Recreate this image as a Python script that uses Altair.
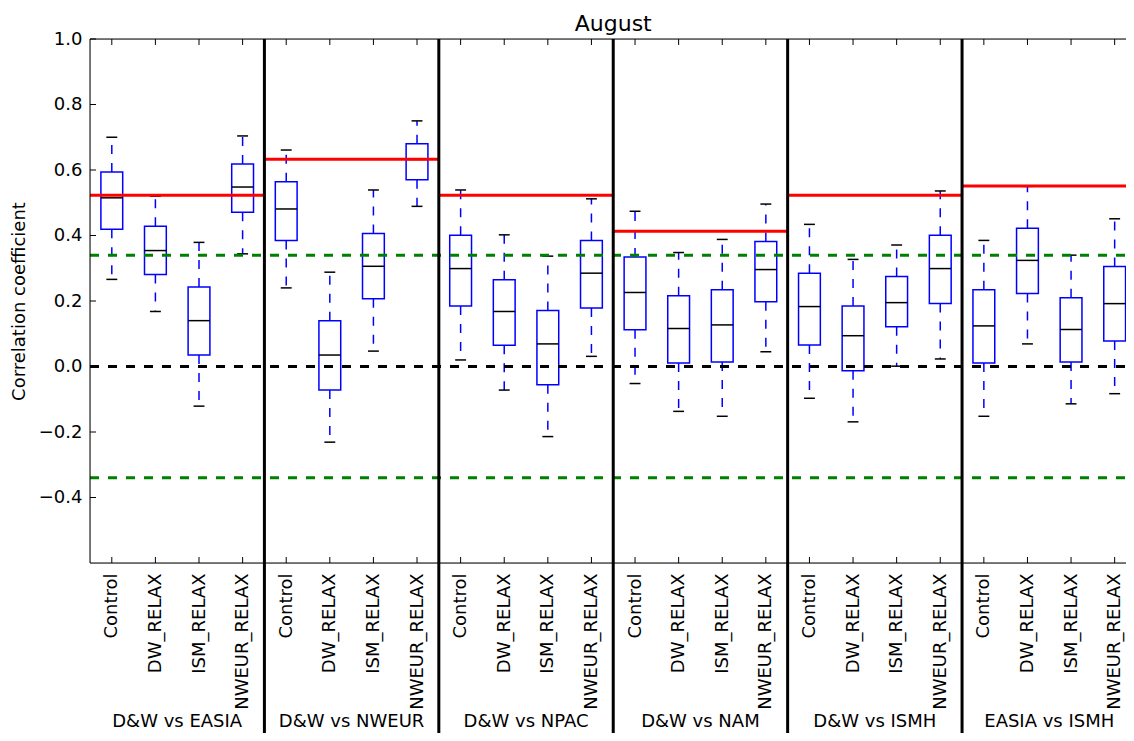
import json
import altair as alt
import pandas as pd

# ---- data ----
groups = ["D&W vs EASIA", "D&W vs NWEUR", "D&W vs NPAC", "D&W vs NAM", "D&W vs ISMH", "EASIA vs ISMH"]
experiments = ["Control", "DW_RELAX", "ISM_RELAX", "NWEUR_RELAX"]
chart_title = ["August"]

whisker_lo = [0.266, 0.168, -0.121, 0.344,
              0.240, -0.231, 0.047, 0.489,
              0.020, -0.072, -0.214, 0.031,
              -0.052, -0.137, -0.152, 0.045,
              -0.097, -0.169, 0.001, 0.023,
              -0.152, 0.069, -0.114, -0.083]
quart1 = [0.419, 0.281, 0.035, 0.471,
          0.385, -0.072, 0.207, 0.570,
          0.185, 0.065, -0.056, 0.179,
          0.112, 0.011, 0.014, 0.198,
          0.066, -0.013, 0.121, 0.192,
          0.011, 0.223, 0.014, 0.078]
medians = [0.515, 0.354, 0.140, 0.548,
           0.481, 0.035, 0.306, 0.632,
           0.299, 0.168, 0.069, 0.285,
           0.226, 0.116, 0.127, 0.296,
           0.183, 0.094, 0.195, 0.299,
           0.124, 0.324, 0.113, 0.192]
quart3 = [0.594, 0.428, 0.243, 0.618,
          0.564, 0.140, 0.406, 0.680,
          0.401, 0.265, 0.171, 0.385,
          0.334, 0.216, 0.234, 0.382,
          0.285, 0.185, 0.275, 0.401,
          0.234, 0.422, 0.210, 0.305]
whisker_hi = [0.700, 0.520, 0.379, 0.704,
              0.661, 0.288, 0.539, 0.750,
              0.539, 0.402, 0.337, 0.512,
              0.474, 0.348, 0.388, 0.496,
              0.434, 0.327, 0.371, 0.536,
              0.385, 0.550, 0.340, 0.451]
observed = [0.523, 0.633, 0.523, 0.413, 0.523, 0.551]   # red lines
significance = [0.34, -0.34]                              # green dashed
zero_line = [0.0]
ytick_values = [-0.4, -0.2, 0.0, 0.2, 0.4, 0.6, 0.8, 1.0]

# ---- layout ----
W, H = 1036, 524
X_END = 24.26          # visible right end of the x domain (plot continues past the window)
FONT = "DejaVu Sans"
BLUE, RED, GREEN = "#0000ff", "#ff0000", "#008000"
n_exp = len(experiments)
n_box = len(groups) * n_exp

rows = []
for g, grp in enumerate(groups):
    for e, exp in enumerate(experiments):
        i = g * n_exp + e
        p = i + 1
        rows.append(dict(group=grp, experiment=exp, pos=p,
                         left=p - 0.25, right=p + 0.25,
                         capl=p - 0.125, capr=p + 0.125,
                         lo=whisker_lo[i], q1=quart1[i], med=medians[i],
                         q3=quart3[i], hi=whisker_hi[i]))
df = pd.DataFrame(rows)

gdf = pd.DataFrame(dict(group=groups, val=observed,
                        x0=[g * n_exp + 0.5 for g in range(len(groups))],
                        x1=[g * n_exp + n_exp + 0.5 for g in range(len(groups))],
                        xc=[g * n_exp + (n_exp + 1) / 2 for g in range(len(groups))]))
sep_df = pd.DataFrame(dict(sx=[g * n_exp + 0.5 for g in range(1, len(groups))]))
sig_df = pd.DataFrame(dict(val=significance))
zero_df = pd.DataFrame(dict(val=zero_line))
ytick_df = pd.DataFrame(dict(v=ytick_values))
title_df = pd.DataFrame(dict(t=chart_title, xc=[(n_box + 1) / 2]))

xscale = alt.Scale(domain=[0.5, X_END], nice=False, zero=False)
yscale = alt.Scale(domain=[-0.6, 1.0], nice=False, zero=False)

xaxis = alt.Axis(values=list(range(1, n_box + 1)),
                 labelExpr=f"{json.dumps(experiments)}[(datum.value - 1) % {n_exp}]",
                 labelAngle=270, labelAlign="right", labelBaseline="middle",
                 labelPadding=10, ticks=False, tickSize=0, domain=False, grid=False,
                 labelOverlap=False, labelFlush=False, labelFont=FONT, labelFontSize=18,
                 labelColor="black", title=None)
yaxis = alt.Axis(values=ytick_values, format=".1f", ticks=False, tickSize=0,
                 domain=False, grid=False, labelPadding=8, labelFont=FONT,
                 labelFontSize=18, labelColor="black", labelOverlap=False,
                 title="Correlation coefficient", titleFont=FONT, titleFontSize=18,
                 titleFontWeight="normal", titleColor="black", titleAngle=270,
                 titleX=-71, titleY=H / 2, titleAlign="center", titleBaseline="middle")


def X(field):
    return alt.X(field, type="quantitative", scale=xscale, axis=xaxis)


def Y(field):
    return alt.Y(field, type="quantitative", scale=yscale, axis=yaxis)


base = alt.Chart(df)

boxes = base.mark_rect(fillOpacity=0, stroke=BLUE, strokeWidth=1.5).encode(
    x=X("left"), x2="right:Q", y=Y("q1"), y2="q3:Q")
whisk_up = base.mark_rule(color=BLUE, strokeWidth=1.5, strokeDash=[9, 9]).encode(
    x=X("pos"), y=Y("q3"), y2="hi:Q")
whisk_dn = base.mark_rule(color=BLUE, strokeWidth=1.5, strokeDash=[9, 9]).encode(
    x=X("pos"), y=Y("q1"), y2="lo:Q")
cap_hi = base.mark_rule(color="black", strokeWidth=1.5).encode(
    x=X("capl"), x2="capr:Q", y=Y("hi"))
cap_lo = base.mark_rule(color="black", strokeWidth=1.5).encode(
    x=X("capl"), x2="capr:Q", y=Y("lo"))
med = base.mark_rule(color="black", strokeWidth=1.5).encode(
    x=X("left"), x2="right:Q", y=Y("med"))

red = alt.Chart(gdf).mark_rule(color=RED, strokeWidth=3).encode(
    x=X("x0"), x2="x1:Q", y=Y("val"))
sig = alt.Chart(sig_df).mark_rule(color=GREEN, strokeWidth=3, strokeDash=[9, 9]).encode(
    x=alt.value(0), x2=alt.value(W + 30), y=Y("val"))
zero = alt.Chart(zero_df).mark_rule(color="black", strokeWidth=3, strokeDash=[9, 9]).encode(
    x=alt.value(0), x2=alt.value(W + 30), y=Y("val"))

seps = alt.Chart(sep_df).mark_rule(color="black", strokeWidth=3).encode(
    x=X("sx"), y=alt.value(0), y2=alt.value(H + 200))

# spines (the right one lies beyond the window in the reference)
spine_df = pd.DataFrame(dict(k=[0]))
spine_top = alt.Chart(spine_df).mark_rule(color="black", strokeWidth=1).encode(
    x=alt.value(0), x2=alt.value(W + 30), y=alt.value(0))
spine_bot = alt.Chart(spine_df).mark_rule(color="black", strokeWidth=1).encode(
    x=alt.value(0), x2=alt.value(W + 30), y=alt.value(H))
spine_left = alt.Chart(spine_df).mark_rule(color="black", strokeWidth=1).encode(
    x=alt.value(0), y=alt.value(0), y2=alt.value(H))

# inward ticks (matplotlib classic style)
top_ticks = base.mark_rule(color="black", strokeWidth=1).encode(
    x=X("pos"), y=alt.value(0), y2=alt.value(6))
bot_ticks = base.mark_rule(color="black", strokeWidth=1).encode(
    x=X("pos"), y=alt.value(H - 6), y2=alt.value(H))
y_ticks = alt.Chart(ytick_df).mark_rule(color="black", strokeWidth=1).encode(
    y=Y("v"), x=alt.value(0), x2=alt.value(6))

group_labels = alt.Chart(gdf).mark_text(font=FONT, fontSize=18, color="black",
                                        align="center", baseline="alphabetic").encode(
    x=X("xc"), y=alt.value(H + 164), text="group:N")

title = alt.Chart(title_df).mark_text(font=FONT, fontSize=22, color="black",
                                      align="center", baseline="alphabetic").encode(
    x=X("xc"), y=alt.value(-8.5), text="t:N")

chart = alt.layer(
    boxes, whisk_up, whisk_dn, cap_hi, cap_lo, med,
    red, sig, zero, seps, spine_top, spine_bot, spine_left,
    top_ticks, bot_ticks, y_ticks, group_labels, title
).properties(
    width=W, height=H,
    autosize=alt.AutoSizeParams(type="none"),
    padding={"left": 82, "top": 31, "right": 0, "bottom": 170},
).configure_view(stroke=None).configure(background="white")

chart.save("out.html", embed_options={"renderer": "svg", "actions": False})
